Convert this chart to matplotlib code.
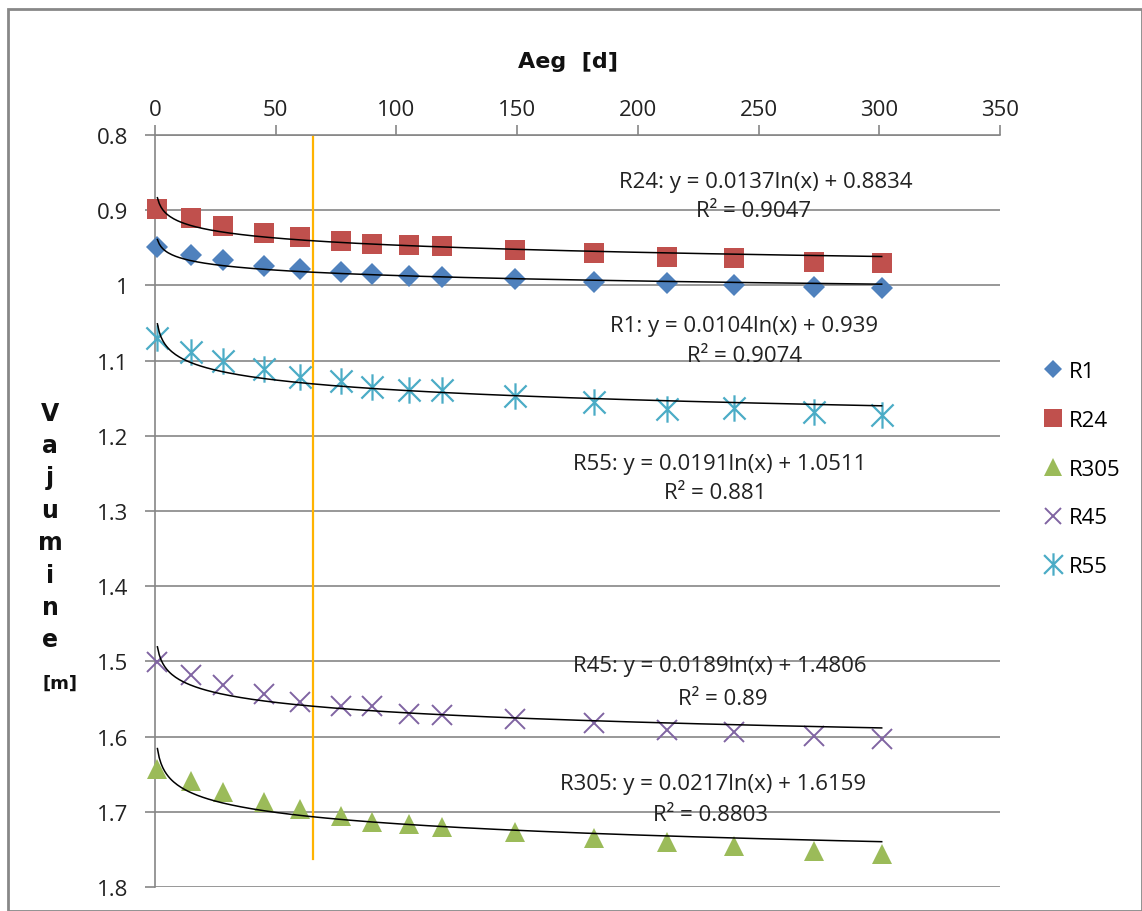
import numpy as np
import matplotlib
matplotlib.use("Agg")
import matplotlib.pyplot as plt
from matplotlib.path import Path
from matplotlib.patches import Rectangle

plt.rcParams['font.family'] = ['Open Sans', 'DejaVu Sans']

# ---- data ----
days = [1, 15, 28, 45, 60, 77, 90, 105, 119, 149, 182, 212, 240, 273, 301]
R1 = [0.949, 0.960, 0.966, 0.974, 0.978, 0.982, 0.985, 0.987, 0.989, 0.991, 0.995, 0.997, 0.999, 1.002, 1.003]
R24 = [0.898, 0.911, 0.921, 0.930, 0.936, 0.941, 0.945, 0.946, 0.948, 0.953, 0.957, 0.962, 0.964, 0.969, 0.970]
R305 = [1.643, 1.659, 1.674, 1.687, 1.696, 1.706, 1.714, 1.716, 1.720, 1.727, 1.735, 1.740, 1.745, 1.752, 1.756]
R45 = [1.501, 1.518, 1.531, 1.543, 1.554, 1.559, 1.559, 1.570, 1.571, 1.577, 1.582, 1.591, 1.594, 1.599, 1.603]
R55 = [1.070, 1.089, 1.100, 1.111, 1.122, 1.127, 1.135, 1.139, 1.139, 1.147, 1.155, 1.164, 1.163, 1.168, 1.173]

series_names = ['R1', 'R24', 'R305', 'R45', 'R55']
series_values = [R1, R24, R305, R45, R55]
trend_a = [0.0104, 0.0137, 0.0217, 0.0189, 0.0191]
trend_b = [0.939, 0.8834, 1.6159, 1.4806, 1.0511]
trend_r2 = ['0.9074', '0.9047', '0.8803', '0.89', '0.881']
# label anchor positions (data coords): eq line and R² line
label_pos = [((244, 1.053), (244, 1.093)),
             ((253, 0.8625), (248, 0.901)),
             ((231, 1.662), (230, 1.703)),
             ((234, 1.506), (235, 1.549)),
             ((234, 1.2375), (232, 1.275))]
vline_x = 65.4
vline_ymax = 1.763

x_ticks = [0, 50, 100, 150, 200, 250, 300, 350]
y_ticks = [0.8, 0.9, 1.0, 1.1, 1.2, 1.3, 1.4, 1.5, 1.6, 1.7, 1.8]
y_tick_labels = ['0.8', '0.9', '1', '1.1', '1.2', '1.3', '1.4', '1.5', '1.6', '1.7', '1.8']

# ---- styles ----
star = Path([(0, -0.5), (0, 0.5), (-0.42, -0.42), (0.42, 0.42), (-0.42, 0.42), (0.42, -0.42)],
            [Path.MOVETO, Path.LINETO, Path.MOVETO, Path.LINETO, Path.MOVETO, Path.LINETO])
styles = {
    'R1': dict(marker='D', color='#4F81BD', ms=11, mew=0, filled=True),
    'R24': dict(marker='s', color='#C0504D', ms=15, mew=0, filled=True),
    'R305': dict(marker='^', color='#9BBB59', ms=15, mew=0, filled=True),
    'R45': dict(marker='x', color='#8064A2', ms=14, mew=1.4, filled=False),
    'R55': dict(marker=star, color='#4BACC6', ms=19, mew=1.6, filled=False),
}

W, H = 1142, 912
fig = plt.figure(figsize=(W / 100, H / 100), dpi=100)
fig.patches.append(Rectangle((8 / W, 0), 1 - 8 / W, 1 - 10 / H, transform=fig.transFigure,
                             fill=False, edgecolor='#888888', lw=2.0))
ax = fig.add_axes([155 / W, 1 - 888 / H, 845 / W, 752 / H])

grid_c = '#868686'
for yv in y_ticks:
    ax.axhline(yv, color=grid_c, lw=1.2, zorder=1)

xx = np.linspace(1, max(days), 400)
handles = []
for name, vals, a, b, r2, (p1, p2) in zip(series_names, series_values, trend_a, trend_b, trend_r2, label_pos):
    st = styles[name]
    if st['filled']:
        h, = ax.plot(days, vals, linestyle='none', marker=st['marker'], ms=st['ms'],
                     markerfacecolor=st['color'], markeredgecolor=st['color'], mew=0, zorder=3,
                     label=name, clip_on=False)
    else:
        h, = ax.plot(days, vals, linestyle='none', marker=st['marker'], ms=st['ms'],
                     markeredgecolor=st['color'], markerfacecolor='none', mew=st['mew'], zorder=3,
                     label=name, clip_on=False)
    handles.append(h)
    ax.plot(xx, a * np.log(xx) + b, color='black', lw=1.1, zorder=4)
    ax.text(p1[0], p1[1], f'{name}: y = {a}ln(x) + {b}', ha='center', va='center', fontsize=16, color='#222222', zorder=5)
    ax.text(p2[0], p2[1], f'R² = {r2}', ha='center', va='center', fontsize=16, color='#222222', zorder=5)

ax.plot([vline_x, vline_x], [0.8, vline_ymax], color='#FFB300', lw=1.6, zorder=2)

ax.set_xlim(0, 350)
ax.set_ylim(1.8, 0.8)
ax.xaxis.tick_top()
ax.set_xticks(x_ticks)
ax.set_xticklabels([str(v) for v in x_ticks])
ax.set_yticks(y_ticks)
ax.set_yticklabels(y_tick_labels)
ax.tick_params(axis='x', direction='out', length=7, color=grid_c, width=1.2, labelsize=16, pad=4, labelcolor='#222222')
ax.tick_params(axis='y', direction='out', length=7, color=grid_c, width=1.2, labelsize=16, pad=12, labelcolor='#222222')
for s in ['right', 'bottom']:
    ax.spines[s].set_visible(False)
ax.spines['top'].set_color(grid_c)
ax.spines['top'].set_linewidth(1.2)
ax.spines['left'].set_color(grid_c)
ax.spines['left'].set_linewidth(1.2)
ax.set_facecolor('white')

fig.text(568 / W, 1 - 62 / H, 'Aeg  [d]', ha='center', va='center', fontsize=16, fontweight='bold',
         color='#111111', family='DejaVu Sans')
fig.text(50 / W, 1 - 527 / H, 'V\na\nj\nu\nm\ni\nn\ne', ha='center', va='center', fontsize=17,
         fontweight='bold', color='#111111', linespacing=1.44, family='DejaVu Sans')
fig.text(60 / W, 1 - 684 / H, '[m]', ha='center', va='center', fontsize=13, fontweight='bold',
         color='#111111', family='DejaVu Sans')

leg = fig.legend(handles=handles, loc='upper left', bbox_to_anchor=(1033 / W, 1 - 351 / H), frameon=False,
                 fontsize=16, labelspacing=1.25, handlelength=0.8, handletextpad=0.3, borderpad=0)
for h in leg.legend_handles:
    h.set_markersize(h.get_markersize() * 0.85)

fig.savefig('out.png', dpi=100, facecolor='white')
